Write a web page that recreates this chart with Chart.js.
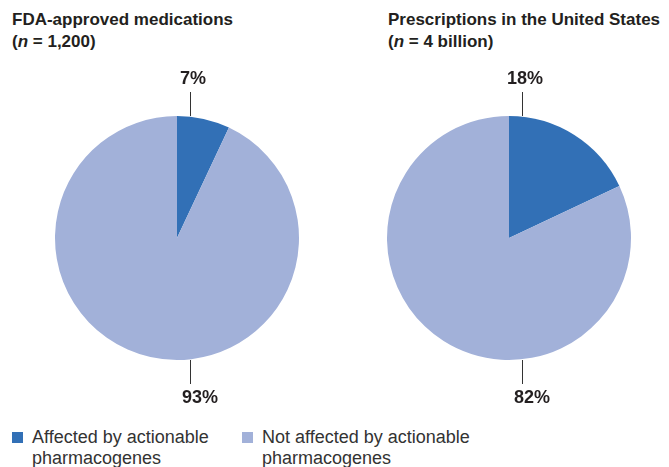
<!DOCTYPE html>
<html>
<head>
<meta charset="utf-8">
<script src="https://cdn.jsdelivr.net/npm/chart.js@4"></script>
<style>
  body { margin: 0; background: #fff; font-family: "Liberation Sans", Arial, sans-serif; color: #231f20; }
  #wrap { position: relative; width: 669px; height: 467px; overflow: hidden; }
  .titulo { position: absolute; font-weight: bold; font-size: 17px; line-height: 22px; white-space: nowrap; }
  canvas { position: absolute; }
  .leyenda { position: absolute; top: 427px; font-size: 18px; line-height: 21px; color: #333; white-space: nowrap; }
  .caja { position: absolute; left: 0; top: 5px; width: 11px; height: 11px; }
  .leyenda span.txt { display: block; margin-left: 20px; }
</style>
</head>
<body>
<div id="wrap">
  <div class="titulo" id="titulo1" style="left:12px; top:9px;"></div>
  <div class="titulo" id="titulo2" style="left:388px; top:9px;"></div>
  <canvas id="graficaFDA" width="334" height="364" style="left:0; top:56px;"></canvas>
  <canvas id="graficaRx" width="335" height="364" style="left:334px; top:56px;"></canvas>
  <div class="leyenda" style="left:12px;"><div class="caja" id="caja1"></div><span class="txt" id="ley1"></span></div>
  <div class="leyenda" style="left:242px;"><div class="caja" id="caja2"></div><span class="txt" id="ley2"></span></div>
</div>
<script>
// categorias y valores (porcentaje)
const categorias = ['Affected by actionable<br>pharmacogenes', 'Not affected by actionable<br>pharmacogenes'];
const valoresFDA = [7, 93];
const valoresRx = [18, 82];
const titulos = ['FDA-approved medications<br>(<i>n</i> = 1,200)', 'Prescriptions in the United States<br>(<i>n</i> = 4 billion)'];
const colores = ['#3270b6', '#a2b1d9'];

document.getElementById('titulo1').innerHTML = titulos[0];
document.getElementById('titulo2').innerHTML = titulos[1];
document.getElementById('ley1').innerHTML = categorias[0];
document.getElementById('ley2').innerHTML = categorias[1];
document.getElementById('caja1').style.background = colores[0];
document.getElementById('caja2').style.background = colores[1];

// dibuja las etiquetas de % con su linea guia
const etiquetas = {
  id: 'etiquetas',
  afterDatasetsDraw(chart) {
    const ctx = chart.ctx;
    const arcos = chart.getDatasetMeta(0).data;
    const datos = chart.data.datasets[0].data;
    const a = arcos[0];
    const x = a.x + 13;
    const r = a.outerRadius;
    ctx.save();
    ctx.strokeStyle = '#333';
    ctx.lineWidth = 1;
    ctx.beginPath();
    ctx.moveTo(Math.round(x) + 0.5, a.y - r - 24);
    ctx.lineTo(Math.round(x) + 0.5, a.y - r);
    ctx.moveTo(Math.round(x) + 0.5, a.y + r);
    ctx.lineTo(Math.round(x) + 0.5, a.y + r + 24);
    ctx.stroke();
    ctx.fillStyle = '#231f20';
    ctx.font = 'bold 18px "Liberation Sans", Arial, sans-serif';
    ctx.textAlign = 'center';
    ctx.textBaseline = 'middle';
    ctx.fillText(datos[0] + '%', x + 3, a.y - r - 37);
    ctx.fillText(datos[1] + '%', x + 10, a.y + r + 38);
    ctx.restore();
  }
};

function crearPie(id, valores, padIzq, padDer) {
  const ctx = document.getElementById(id).getContext('2d');
  return new Chart(ctx, {
    type: 'pie',
    data: {
      labels: categorias,
      datasets: [{
        data: valores,
        backgroundColor: colores,
        borderWidth: 0
      }]
    },
    options: {
      responsive: false,
      animation: false,
      layout: { padding: { left: padIzq, right: padDer, top: 60, bottom: 60 } },
      plugins: {
        legend: { display: false },
        tooltip: { enabled: false }
      }
    },
    plugins: [etiquetas]
  });
}

crearPie('graficaFDA', valoresFDA, 55, 35);
crearPie('graficaRx', valoresRx, 53, 38);
</script>
</body>
</html>
